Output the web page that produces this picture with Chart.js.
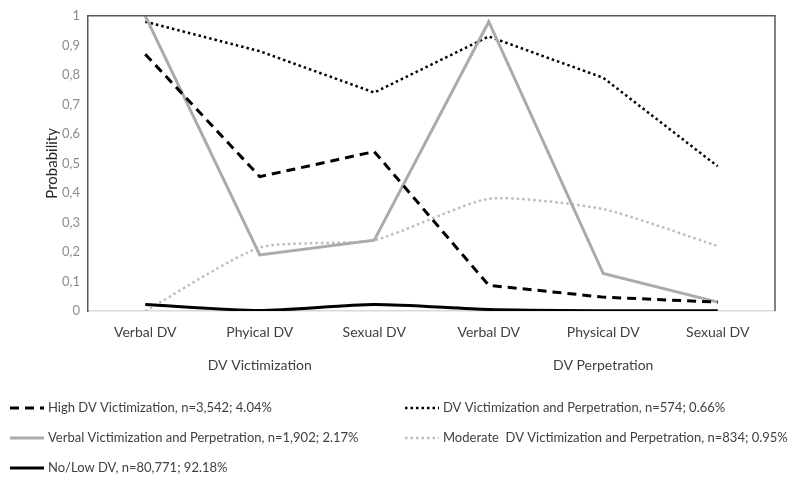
<!DOCTYPE html>
<html>
<head>
<meta charset="utf-8">
<script src="https://cdn.jsdelivr.net/npm/chart.js@4.4.1/dist/chart.umd.min.js"></script>
<style>
  html, body { margin: 0; padding: 0; background: #fff; }
  #wrap { width: 800px; height: 485px; }
</style>
</head>
<body>
<div id="wrap"><canvas id="c" width="800" height="485"></canvas></div>
<script>
// categories and groups
const categories = ['Verbal DV', 'Phyical DV', 'Sexual DV', 'Verbal DV', 'Physical DV', 'Sexual DV'];
const groups = [
    { label: 'DV Victimization', from: 0, to: 2 },
    { label: 'DV Perpetration', from: 3, to: 5 }
];

// series values
const highVict = [0.87, 0.455, 0.54, 0.087, 0.047, 0.03];
const verbalVictPerp = [1.0, 0.19, 0.24, 0.98, 0.127, 0.03];
const noLow = [0.022, 0.002, 0.022, 0.005, 0.001, 0.001];
const victPerp = [0.98, 0.88, 0.74, 0.93, 0.79, 0.49];
const moderate = [0.0, 0.215, 0.24, 0.38, 0.345, 0.22];

const labels = [
    'High DV Victimization, n=3,542; 4.04%',
    'Verbal Victimization and Perpetration, n=1,902; 2.17%',
    'No/Low DV, n=80,771; 92.18%',
    'DV Victimization and Perpetration, n=574; 0.66%',
    'Moderate  DV Victimization and Perpetration, n=834; 0.95%'
];

const yTicks = [0, 0.1, 0.2, 0.3, 0.4, 0.5, 0.6, 0.7, 0.8, 0.9, 1];

const FONT = 'Lato';
const textCol = '#404040';
const tickGray = '#8c8c8c';

// legend: two columns, rows of 30px
const legendPlugin = {
    id: 'twoColLegend',
    afterDraw(chart) {
        const ctx = chart.ctx;
        const cols = [[0, 1, 2], [3, 4]];
        const colX = [10, 405];
        ctx.save();
        ctx.font = `13px ${FONT}`;
        ctx.textBaseline = 'middle';
        ctx.fillStyle = textCol;
        cols.forEach((col, ci) => {
            col.forEach((di, ri) => {
                const ds = chart.data.datasets[di];
                const x = colX[ci];
                const y = 408 + ri * 30;
                ctx.beginPath();
                ctx.strokeStyle = ds.borderColor;
                ctx.lineWidth = ds.borderWidth;
                ctx.setLineDash(ds.borderDash || []);
                ctx.moveTo(x, y);
                ctx.lineTo(x + 34, y);
                ctx.stroke();
                ctx.setLineDash([]);
                ctx.fillText(ds.label, x + 38, y);
            });
        });
        ctx.restore();
    }
};

const framePlugin = {
    id: 'frameAndGroups',
    afterDraw(chart) {
        const ctx = chart.ctx;
        const a = chart.chartArea;
        const xs = chart.scales.x;
        ctx.save();
        ctx.strokeStyle = '#595959';
        ctx.lineWidth = 1.5;
        ctx.beginPath();
        ctx.moveTo(a.left, a.top);
        ctx.lineTo(a.right, a.top);
        ctx.lineTo(a.right, a.bottom);
        ctx.stroke();

        ctx.font = `14px ${FONT}`;
        ctx.fillStyle = textCol;
        ctx.textAlign = 'center';
        ctx.textBaseline = 'middle';
        groups.forEach(g => {
            const cx = (xs.getPixelForValue(g.from) + xs.getPixelForValue(g.to)) / 2;
            ctx.fillText(g.label, cx, a.bottom + 54);
        });
        ctx.restore();
    }
};

new Chart(document.getElementById('c'), {
    type: 'line',
    data: {
        labels: categories,
        datasets: [
            {
                label: labels[0], data: highVict,
                borderColor: '#000', borderWidth: 3, borderDash: [9, 6],
                pointRadius: 0, tension: 0
            },
            {
                label: labels[1], data: verbalVictPerp,
                borderColor: '#ababab', borderWidth: 3,
                pointRadius: 0, tension: 0
            },
            {
                label: labels[2], data: noLow,
                borderColor: '#000', borderWidth: 3,
                pointRadius: 0, tension: 0.25
            },
            {
                label: labels[3], data: victPerp,
                borderColor: '#000', borderWidth: 2.5, borderDash: [2.5, 3],
                pointRadius: 0, tension: 0
            },
            {
                label: labels[4], data: moderate,
                borderColor: '#bdbdbd', borderWidth: 2.5, borderDash: [2.5, 3],
                pointRadius: 0, tension: 0.2
            }
        ]
    },
    options: {
        responsive: false,
        animation: false,
        layout: { padding: { left: 0, right: 25, top: 13, bottom: 0 } },
        plugins: {
            legend: { display: false },
            tooltip: { enabled: false }
        },
        scales: {
            x: {
                offset: true,
                grid: { display: false, drawTicks: false },
                border: { color: '#d9d9d9', width: 1.5 },
                ticks: { color: textCol, font: { family: FONT, size: 14 }, padding: 13, maxRotation: 0 },
                afterFit: (s) => { s.height = 174; }
            },
            y: {
                min: 0, max: 1,
                grid: { display: false, drawTicks: false },
                border: { color: '#595959', width: 1.5 },
                afterBuildTicks: (s) => { s.ticks = yTicks.map(v => ({ value: v })); },
                ticks: {
                    color: tickGray,
                    font: { family: FONT, size: 13 },
                    padding: 8,
                    callback: (v) => String(Math.round(v * 10) / 10).replace('.', ',')
                },
                title: {
                    display: true, text: 'Probability', color: '#262626',
                    font: { family: FONT, size: 15 },
                    padding: { top: 43 }
                },
                afterFit: (s) => { s.width = 88; }
            }
        }
    },
    plugins: [legendPlugin, framePlugin]
});
</script>
</body>
</html>
